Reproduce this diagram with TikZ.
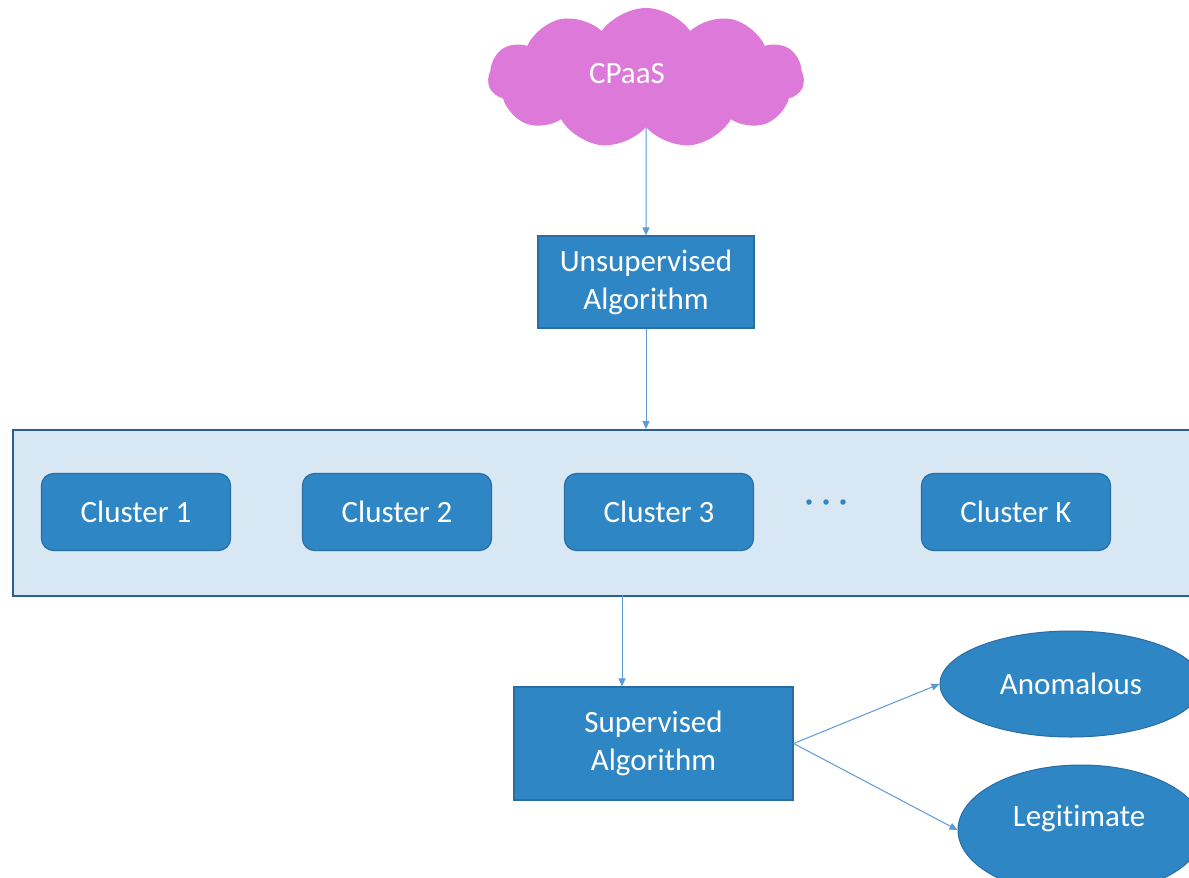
\documentclass[tikz,border=0pt]{standalone}
\usepackage{fontspec}
\setmainfont[Ligatures=NoCommon]{Carlito}
\usetikzlibrary{shapes.symbols,shapes.geometric,arrows.meta}
\definecolor{boxblue}{HTML}{2F86C4}
\definecolor{boxedge}{HTML}{2A6DA3}
\definecolor{linkblue}{HTML}{5B9BD5}
\definecolor{panelfill}{HTML}{D7E7F4}
\definecolor{paneledge}{HTML}{2D5F8F}
\definecolor{cloudpink}{HTML}{DD79D9}
\tikzset{
  every node/.style={font=\fontsize{31}{38}\selectfont, text=white, align=center},
  algobox/.style={rectangle, fill=boxblue, draw=boxedge, line width=1.2pt, inner sep=0pt},
  clusterbox/.style={rectangle, rounded corners=12pt, fill=boxblue, draw=boxedge, line width=1.2pt,
    minimum width=189pt, minimum height=77pt, inner sep=0pt},
  outcome/.style={ellipse, fill=boxblue, draw=boxedge, line width=1pt, inner sep=0pt},
  link/.style={draw=linkblue, line width=1pt, -{Triangle[length=8pt,width=7pt]}},
  dot/.style={circle, fill=boxblue, minimum size=5.5pt, inner sep=0pt},
}
\begin{document}
\begin{tikzpicture}[x=1pt,y=-1pt]
  \useasboundingbox (0,0) rectangle (1189,878);
  \clip (0,0) rectangle (1189,878);
  \fill[white] (0,0) rectangle (1189,878);

  % data source
  \node[cloud, cloud puffs=11, cloud puff arc=110, aspect=2.3, fill=cloudpink, draw=none,
        minimum width=316pt, minimum height=140pt] (cpaas) at (646,78) {};
  \node at (627,74) {CPaaS};

  % clustering stage
  \node[algobox, minimum width=216pt, minimum height=92pt] (unsup) at (646,282)
    {Unsupervised\\Algorithm};

  \node[rectangle, fill=panelfill, draw=paneledge, line width=2pt, anchor=north west,
        minimum width=1200pt, minimum height=166pt, inner sep=0pt] (panel) at (12,429) {};
  \coordinate (paneltop) at (646,429);
  \coordinate (panelbot) at (622,595);

  \node[clusterbox] (c1) at (136,512) {Cluster 1};
  \node[clusterbox] (c2) at (397,512) {Cluster 2};
  \node[clusterbox] (c3) at (659,512) {Cluster 3};
  \node[clusterbox] (ck) at (1016,512) {Cluster K};
  \node[dot] (d1) at (809,502) {};
  \node[dot] (d2) at (826,502) {};
  \node[dot] (d3) at (843,502) {};

  % classification stage
  \node[algobox, minimum width=279pt, minimum height=113pt] (sup) at (653.5,743.5)
    {Supervised\\Algorithm};
  \node[outcome, minimum width=262pt, minimum height=106pt] (anom) at (1071,684) {Anomalous};
  \node[outcome, minimum width=246pt, minimum height=130pt] (legit) at (1081,830) {};
  \node at (1079,818) {Legitimate};

  % connectors
  \draw[link] (cpaas.south) -- (unsup.north);
  \draw[link] (unsup.south) -- (paneltop);
  \draw[link] (panelbot) -- (sup.north -| panelbot);
  \draw[link] (sup.east) -- (anom.west);
  \draw[link] (sup.east) -- (legit.west);
\end{tikzpicture}
\end{document}
